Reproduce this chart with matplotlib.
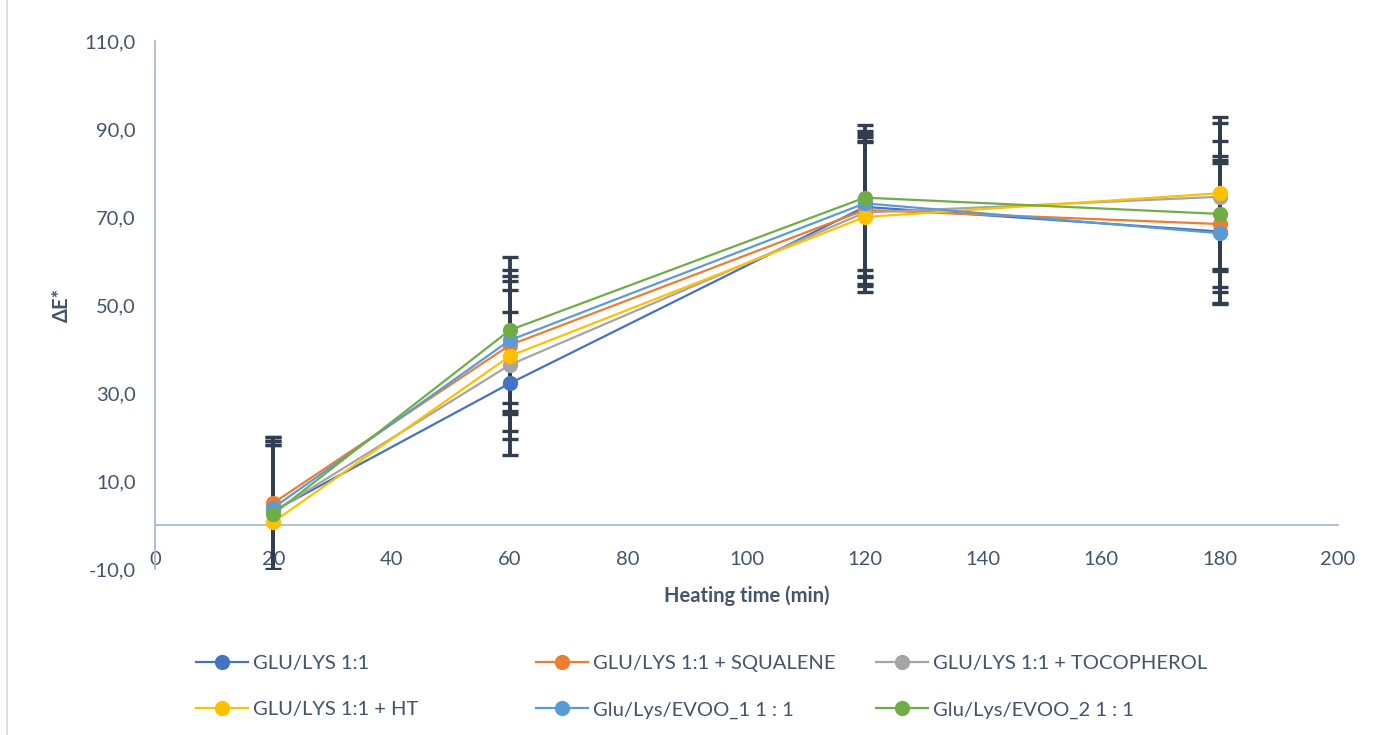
import matplotlib
matplotlib.use("Agg")
import matplotlib.pyplot as plt
from matplotlib.lines import Line2D

plt.rcParams['font.family'] = ['Lato', 'DejaVu Sans']

times = [20, 60, 120, 180]
labels = ["GLU/LYS 1:1", "GLU/LYS 1:1 + SQUALENE", "GLU/LYS 1:1 + TOCOPHEROL",
          "GLU/LYS 1:1 + HT", "Glu/Lys/EVOO_1 1 : 1", "Glu/Lys/EVOO_2 1 : 1"]
colors = ["#4472C4", "#ED7D31", "#A5A5A5", "#FFC000", "#5B9BD5", "#70AD47"]

glu_lys = [3.2, 32.2, 72.3, 66.7]
glu_lys_err = [16.0, 16.3, 15.9, 16.3]
squalene = [5.0, 40.9, 71.6, 68.4]
squalene_err = [15.1, 15.7, 17.3, 15.5]
tocopherol = [3.0, 36.4, 71.0, 74.6]
tocopherol_err = [16.2, 16.9, 16.3, 16.8]
ht = [0.7, 38.4, 70.0, 75.4]
ht_err = [17.5, 17.1, 17.0, 17.3]
evoo1 = [3.9, 42.0, 73.1, 66.3]
evoo1_err = [16.2, 16.0, 16.4, 16.0]
evoo2 = [2.5, 44.3, 74.4, 70.7]
evoo2_err = [15.7, 16.6, 16.5, 16.6]

series = [glu_lys, squalene, tocopherol, ht, evoo1, evoo2]
errors = [glu_lys_err, squalene_err, tocopherol_err, ht_err, evoo1_err, evoo2_err]

xticks = [0, 20, 40, 60, 80, 100, 120, 140, 160, 180, 200]
yticks = [-10, 10, 30, 50, 70, 90, 110]

W, H = 1379, 735
fig = plt.figure(figsize=(W / 100, H / 100), dpi=100)
ax = fig.add_axes([155 / W, 1 - 569 / H, (1338 - 155) / W, (569 - 41) / H])

txt_col = "#44546A"
axis_col = "#ADB9CA"
err_col = "#323E4F"

for ys, es in zip(series, errors):
    ax.errorbar(times, ys, yerr=es, fmt='none', ecolor=err_col, elinewidth=2.8,
                capsize=6, capthick=2.4, zorder=2, clip_on=True)

handles = []
for ys, c, lab in zip(series, colors, labels):
    ln, = ax.plot(times, ys, color=c, lw=1.6, marker='o', markersize=11,
                  markeredgewidth=0, zorder=3, label=lab)
    handles.append(ln)

ax.set_xlim(0, 200)
ax.set_ylim(-10, 110)
ax.set_xticks(xticks)
ax.set_yticks(yticks)
ax.set_xticklabels([str(v) for v in xticks])
ax.set_yticklabels([f"{v:.1f}".replace('.', ',') for v in yticks])

for s in ['top', 'right']:
    ax.spines[s].set_visible(False)
ax.spines['bottom'].set_position(('data', 0))
ax.spines['bottom'].set_color(axis_col)
ax.spines['bottom'].set_linewidth(1.3)
ax.spines['left'].set_color(axis_col)
ax.spines['left'].set_linewidth(1.3)
ax.tick_params(axis='x', length=0, pad=19, labelsize=14.5, colors=txt_col)
ax.tick_params(axis='y', length=0, pad=14, labelsize=14.5, colors=txt_col)

fig.text(747 / W, 1 - 596 / H, "Heating time (min)", ha='center', va='center',
         fontsize=14.5, fontweight='bold', color=txt_col)
fig.text(62 / W, 1 - 305 / H, "ΔE*", ha='center', va='center', rotation=90,
         fontsize=14.5, fontweight='bold', color=txt_col)

# legend: three columns
col_x = [196, 536, 876]
cols = [[0, 3], [1, 4], [2, 5]]
for cx, idx in zip(col_x, cols):
    hs = [Line2D([], [], color=colors[i], lw=1.6, marker='o', markersize=11,
                 markeredgewidth=0) for i in idx]
    leg = fig.legend(hs, [labels[i] for i in idx], loc='upper left',
                     bbox_to_anchor=(cx / W, 1 - 655 / H), frameon=False,
                     fontsize=14.5, handlelength=2.6, handletextpad=0.25,
                     labelspacing=1.45, borderpad=0, borderaxespad=0)
    for t in leg.get_texts():
        t.set_color(txt_col)

fig.add_artist(Line2D([7 / W, 7 / W], [0, 1], color="#D9D9D9", lw=1.2,
                      transform=fig.transFigure))

fig.savefig("out.png", dpi=100)
